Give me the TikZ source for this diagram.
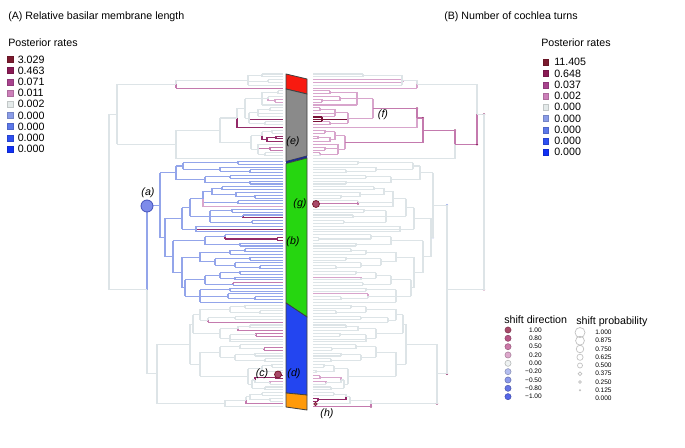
\documentclass[tikz,border=0pt]{standalone}
\usepackage{fontspec}
\setmainfont{Liberation Sans}
\definecolor{cg}{HTML}{DDE4E7}
\definecolor{cb}{HTML}{93A5EA}
\definecolor{cp}{HTML}{D8A5CC}
\definecolor{cq}{HTML}{C47AAE}
\definecolor{cr}{HTML}{932A68}
\definecolor{cs}{HTML}{7A1238}
\definecolor{l1}{HTML}{7B1A2E}
\definecolor{l2}{HTML}{8A1A55}
\definecolor{l3}{HTML}{A8438E}
\definecolor{l4}{HTML}{CC7FB9}
\definecolor{l5}{HTML}{E4EAEA}
\definecolor{l6}{HTML}{8A9CE8}
\definecolor{l7}{HTML}{5C78EA}
\definecolor{l8}{HTML}{2E50F2}
\definecolor{l9}{HTML}{1030F5}
\definecolor{d1}{HTML}{A84A6A}
\definecolor{d2}{HTML}{B85585}
\definecolor{d3}{HTML}{CC78A8}
\definecolor{d4}{HTML}{DDA8CC}
\definecolor{d5}{HTML}{EEF2F2}
\definecolor{d6}{HTML}{B4BEF0}
\definecolor{d7}{HTML}{8C9AEC}
\definecolor{d8}{HTML}{6676E6}
\definecolor{d9}{HTML}{5566E8}
\definecolor{barred}{HTML}{F81A10}
\definecolor{bargray}{HTML}{8A8A8A}
\definecolor{bargreen}{HTML}{26D610}
\definecolor{barblue}{HTML}{2345F0}
\definecolor{barorange}{HTML}{FF9A0A}
\definecolor{barnavy}{HTML}{1A2A90}
% ---------- tree machinery ----------
\newif\ifrightside
\def\dY{2.82}
\let\pendingdot\relax
\let\firstY\relax
\def\kids{}
\def\D#1{\gdef\pendingdot{#1}}
\def\childdone{%
  \ifx\firstY\relax\edef\firstY{\lastY}\fi
  \edef\lastcY{\lastY}%
  \edef\kids{\unexpanded\expandafter{\kids}\noexpand\kid{\lastY}{\lastC}}}
\def\T#1#2{%
  \ifrightside\def\tC{#2}\else\def\tC{#1}\fi
  \draw[br,color=\tC] (\xp,\curY) -- (\tipX,\curY);
  \ifx\pendingdot\relax\else
    \ifrightside\fill[color=\pendingdot] (\xp,\curY) circle[radius=0.9pt];\fi
    \global\let\pendingdot\relax\fi
  \xdef\lastY{\curY}\xdef\lastC{\tC}%
  \pgfmathsetmacro\tmpY{\curY+\dY}\xdef\curY{\tmpY}%
  \childdone}
\def\NN#1#2#3#4#5{%
  \begingroup
    \ifrightside
      \def\tmparg{#2}%
      \ifx\tmparg\empty\pgfmathsetmacro\myX{596-#1}\else\def\myX{#2}\fi
      \def\myC{#4}%
    \else\def\myX{#1}\def\myC{#3}\fi
    \let\mydot\pendingdot\global\let\pendingdot\relax
    \let\parX\xp
    \let\xp\myX
    \let\firstY\relax
    \def\kids{}%
    #5%
    \pgfmathsetmacro\myY{(\firstY+\lastcY)/2}%
    \def\kid##1##2{\draw[br,color=##2] (\myX,\myY) -- (\myX,##1);}%
    \kids
    \draw[br,color=\myC] (\parX,\myY) -- (\myX,\myY);
    \ifx\mydot\relax\else\ifrightside\fill[color=\mydot] (\parX,\myY) circle[radius=0.9pt];\fi\fi
    \xdef\lastY{\myY}\xdef\lastC{\myC}%
  \endgroup
  \childdone}
\def\nG#1#2{\NN{#1}{}{cg}{cg}{#2}}
\def\nB#1#2{\NN{#1}{}{cb}{cg}{#2}}
\def\tG{\T{cg}{cg}}
\def\tB{\T{cb}{cg}}
% ---------- tree data ----------
\def\AONE{\NN{176}{417}{cg}{cg}{\NN{248}{402}{cg}{cg}{\NN{262}{363}{cg}{cg}{\tG\tG}\NN{268}{403}{cg}{cp}{\T{cg}{cp}\T{cg}{cp}}\tG}\T{cq}{cp}}}
\def\ATWOa{\NN{262}{357}{cg}{cp}{\NN{278}{330}{cg}{cp}{\T{cg}{cp}\T{cg}{cp}}\NN{268}{340}{cg}{cp}{\T{cg}{cp}\NN{275}{322}{cp}{cp}{\T{cp}{cp}\T{cp}{cp}}}\T{cg}{cp}}}
\def\ATWOb{\NN{249}{348}{cg}{cp}{\NN{258}{335}{cg}{cp}{\NN{270}{320}{cg}{cp}{\T{cg}{cp}\T{cg}{cp}}\T{cg}{cp}\T{cg}{cp}}\D{cr}\T{cr}{cs}\NN{265}{330}{cg}{cp}{\T{cg}{cp}\T{cg}{cp}}}}
\def\ATWOc{\NN{251}{345}{cg}{cq}{\NN{262}{335}{cg}{cp}{\NN{272}{325}{cg}{cp}{\T{cg}{cp}\T{cg}{cp}}\NN{267}{330}{cr}{cp}{\NN{276}{318}{cr}{cp}{\T{cr}{cp}\T{cr}{cp}}\T{cr}{cp}}}\NN{258}{338}{cg}{cp}{\T{cg}{cp}\NN{270}{325}{cq}{cp}{\T{cq}{cp}\T{cq}{cp}}\NN{265}{320}{cg}{cp}{\T{cg}{cp}\T{cg}{cg}}}}}
\def\ATWO{\D{cr}\NN{176}{455}{cg}{cq}{\D{cr}\NN{220}{423}{cg}{cq}{\D{cr}\NN{237}{417}{cg}{cq}{\D{cr}\NN{245}{373}{cg}{cq}{\ATWOa\ATWOb}\T{cr}{cp}}\ATWOc}\T{cg}{cg}}}
\def\BONE{\nB{176}{\nB{183}{\nB{238}{\tB\tB}\nB{220}{\tB\nB{250}{\tB\tB}}}\nB{205}{\nB{230}{\tB\tB}\nB{250}{\tB\tB}}}}
\def\BTWO{\nB{182}{\nB{190}{\nB{203}{\nB{212}{\nB{222}{\tB\tB}\nB{236}{\tB\nB{255}{\tB\tB}}}\NN{238}{358}{cb}{cg}{\tB\D{cr}\T{cb}{cq}}\T{cp}{cg}}\nB{210}{\nB{232}{\tB\tB}\nB{243}{\tB\T{cr}{cg}}\nB{252}{\tB\tB}}}\nB{196}{\tB\T{cr}{cg}\tB}}}
\def\BTHREE{\nB{173}{\nB{205}{\nB{225}{\tB\NN{277}{}{cr}{cg}{\T{cr}{cg}\T{cr}{cg}}}\nB{240}{\tB\tB}}\nB{182}{\nB{200}{\nB{230}{\nB{245}{\tB\tB}\tB}\nB{215}{\nB{250}{\tB\tB}\nB{235}{\tB\nB{260}{\tB\tB}}}}\nB{185}{\nB{205}{\nB{220}{\nB{240}{\tB\tB}\NN{235}{}{cb}{cg}{\T{cb}{cp}\tB}}\nB{233}{\T{cq}{cg}\tB}}\nB{200}{\nB{230}{\tB\tB}\NN{228}{}{cb}{cg}{\T{cb}{cp}\nB{255}{\tB\tB}}\tB}}}}}
\def\BLUE{\D{cb}\NN{160}{433}{cb}{cg}{\BONE\D{cb}\nB{165}{\BTWO\BTHREE}}}
\def\UONE{\nG{193}{\nG{200}{\nG{230}{\nG{245}{\tG\tG}\nG{260}{\tG\tG}}\nG{208}{\nG{235}{\tG\tG}\T{cq}{cg}}}\nG{220}{\nG{238}{\nG{250}{\tG\tG}\T{cq}{cg}}\nG{230}{\nG{256}{\T{cq}{cg}\T{cq}{cg}}\tG\tG}}}}
\def\UTWO{\nG{200}{\nG{220}{\nG{240}{\tG\nG{264}{\T{cq}{cg}\T{cq}{cg}}}\nG{235}{\nG{255}{\tG\tG}\nG{265}{\tG\tG}}}\nG{248}{\nG{262}{\nG{272}{\tG\tG}\nG{280}{\tG\tG}}\nG{252}{\nG{255}{\NN{276}{320}{cr}{cp}{\T{cr}{cp}\T{cr}{cp}}\nG{270}{\T{cp}{cp}\tG}}\nG{265}{\tG\tG}}}}}
\def\LL{\D{cr}\NN{225}{371}{cg}{cg}{\NN{246}{350}{cg}{cg}{\nG{250}{\nG{262}{\tG\tG}\NN{270}{318}{cg}{cr}{\T{cg}{cr}\T{cg}{cr}}}\T{cq}{cg}}\D{cr}\T{cg}{cq}}}
\def\LOWER{\D{cr}\NN{157}{437}{cg}{cg}{\nG{190}{\UONE\UTWO}\LL}}
\def\TREE{\NN{109}{484}{cg}{cg}{\D{cr}\NN{117}{477}{cg}{cg}{\AONE\ATWO}\D{cr}\NN{147}{447}{cg}{cg}{\BLUE\LOWER}}}
\begin{document}
\begin{tikzpicture}[x=0.75pt,y=-0.75pt,
  br/.style={line width=0.8pt},
  txt/.style={inner sep=0pt,font=\fontsize{8}{9.6}\selectfont},
  lab/.style={inner sep=0pt,font=\fontsize{8}{9.6}\selectfont\itshape},
  tinytxt/.style={inner sep=0pt,font=\fontsize{4.9}{5.9}\selectfont},
  barseg/.style={draw=black!75,line width=0.6pt,line join=round}]
\useasboundingbox (0,0) rectangle (685,448);
\fill[white] (0,0) rectangle (685,448);
% ---------- trees ----------
\rightsidefalse\def\tipX{283}\gdef\curY{74}\def\xp{109}\TREE
\rightsidetrue\def\tipX{313}\gdef\curY{74}\def\xp{484}\TREE
% extra small bracket on right (f) clade
\draw[br,color=cs] (322,117) -- (313,117) (322,121.5) -- (313,121.5) (322,117) -- (322,121.5);
% ---------- central bar ----------
\filldraw[barseg,fill=barred] (286,74) -- (307,79) -- (307,94) -- (286,89) -- cycle;
\filldraw[barseg,fill=bargray] (286,89) -- (307,94) -- (307,156) -- (286,161.5) -- cycle;
\fill[barnavy] (286,161.5) -- (307,156) -- (307,158) -- (286,163.5) -- cycle;
\filldraw[barseg,fill=bargreen] (286,163.5) -- (307,158) -- (307,317) -- (286,303) -- cycle;
\filldraw[barseg,fill=barblue] (286,303) -- (307,317) -- (307,395) -- (286,393) -- cycle;
\filldraw[barseg,fill=barorange] (286,393) -- (307,395) -- (307,410) -- (286,407) -- cycle;
% ---------- shift circles ----------
\filldraw[fill=d8!85!white,draw=d9!80!black,line width=0.6pt] (147,206) circle[radius=4.5pt];
\filldraw[fill=d1,draw=l1,line width=0.6pt] (316,204) circle[radius=2.6pt];
\filldraw[fill=d1,draw=l1,line width=0.6pt] (278,374.5) circle[radius=2.6pt];
\filldraw[fill=d1,draw=l1,line width=0.4pt] (315.5,404) circle[radius=1.4pt];
% ---------- letter labels ----------
\node[lab] (la) at (148,193) {(a)};
\node[lab] (lb) at (293,242) {(b)};
\node[lab] (lc) at (262,374) {(c)};
\node[lab] (ld) at (294,374) {(d)};
\node[lab] (le) at (293,142) {(e)};
\node[lab] (lf) at (383,115) {(f)};
\node[lab] (lg) at (300,204) {(g)};
\node[lab] (lh) at (327,414) {(h)};
% ---------- titles ----------
\node[txt,anchor=west] (titleA) at (8,17) {(A) Relative basilar membrane length};
\node[txt,anchor=west] (titleB) at (444,17) {(B) Number of cochlea turns};
\node[txt,anchor=west] (postA) at (8,43) {Posterior rates};
\node[txt,anchor=west] (postB) at (541,43) {Posterior rates};
% ---------- rate legends ----------
\foreach \c/\v [count=\i from 0] in {l1/3.029,l2/0.463,l3/0.071,l4/0.011,l5/0.002,l6/0.000,l7/0.000,l8/0.000,l9/0.000}{
  \pgfmathsetmacro\yy{59.5+11.2*\i}
  \filldraw[fill=\c,draw=\c!85!black,line width=0.3pt] (7.5,{\yy-3}) rectangle (13,{\yy+3});
  \node[txt,anchor=west] (lva\i) at (17.5,\yy) {\v};
}
\foreach \c/\v [count=\i from 0] in {l1/11.405,l2/0.648,l3/0.037,l4/0.002,l5/0.000,l6/0.000,l7/0.000,l8/0.000,l9/0.000}{
  \pgfmathsetmacro\yy{62.3+11.25*\i}
  \filldraw[fill=\c,draw=\c!85!black,line width=0.3pt] (543,{\yy-3}) rectangle (548.5,{\yy+3});
  \node[txt,anchor=west] (lvb\i) at (554,\yy) {\v};
}
% ---------- shift direction legend ----------
\node[txt,anchor=west] (sdir) at (504,320) {shift direction};
\foreach \c/\v [count=\i from 0] in {d1/1.00,d2/0.80,d3/0.50,d4/0.20,d5/0.00,d6/−0.20,d7/−0.50,d8/−0.80,d9/−1.00}{
  \pgfmathsetmacro\yy{330+8.33*\i}
  \filldraw[fill=\c,draw=\c!75!black,line width=0.4pt] (508,\yy) circle[radius=2.3pt];
  \node[tinytxt,anchor=east] (sdv\i) at (542,\yy) {\v};
}
% ---------- shift probability legend ----------
\node[txt,anchor=west] (sprob) at (576,322) {shift probability};
\foreach \r/\v [count=\i from 0] in {5/1.000,4.4/0.875,3.8/0.750,3.1/0.625,2.5/0.500,1.9/0.375,1.3/0.250,0.6/0.125,0/0.000}{
  \pgfmathsetmacro\yy{332.5+8.25*\i}
  \ifdim\r pt>0pt
    \draw[color=black!25,line width=0.5pt] (580,\yy) circle[radius=\r*0.75pt];
  \fi
  \node[tinytxt,anchor=west] (spv\i) at (595,\yy) {\v};
}
\end{tikzpicture}
\end{document}
